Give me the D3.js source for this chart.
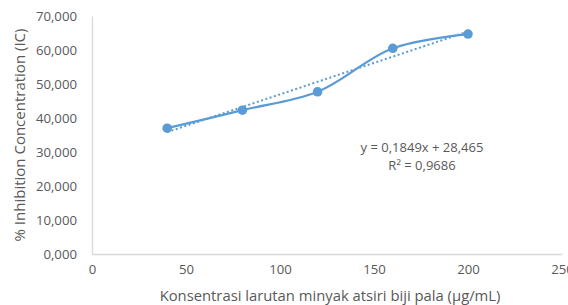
<!DOCTYPE html>
<html>
<head>
<meta charset="utf-8">
<script src="https://cdn.jsdelivr.net/npm/d3@7"></script>
<style>
  body { margin: 0; background: #fff; }
  svg { display: block; font-family: "Open Sans", sans-serif; }
</style>
</head>
<body>
<div id="chart"></div>
<script>
"use strict";

// Concentration (µg/mL) and % inhibition
const concentrations = [40, 80, 120, 160, 200];
const inhibition = [37.0, 42.3, 47.7, 60.5, 64.7];
const xTicks = [0, 50, 100, 150, 200, 250];
const yTicks = [0, 10, 20, 30, 40, 50, 60, 70];
const trendSlope = 0.1849;
const trendIntercept = 28.465;
const trendText = ['y = 0,1849x + 28,465', 'R\u00B2 = 0,9686'];

const width = 568, height = 305;
const margin = {left: 92, right: 6, top: 16, bottom: 51};
const chartWidth = width - margin.left - margin.right;
const chartHeight = height - margin.top - margin.bottom;
const blue = '#5b9bd5';
const textGrey = '#595959';
const axisGrey = '#d9d9d9';

let svg = d3.select('#chart').append('svg')
    .attr('width', width)
    .attr('height', height);

let x = d3.scaleLinear().domain([0, 250]).range([0, 470]);
let y = d3.scaleLinear().domain([0, 70]).range([chartHeight, 0]);

// Excel style number: three decimals, comma as decimal mark
function fmt(v) { return v.toFixed(3).replace('.', ','); }

let g = svg.append('g')
    .attr('transform', 'translate(' + margin.left + ',' + margin.top + ')');

// Axes lines only, no tick marks
let xAxis = g.append('g')
    .attr('transform', 'translate(0,' + chartHeight + ')')
    .call(d3.axisBottom(x).tickValues(xTicks).tickSize(0).tickPadding(11));
let yAxis = g.append('g')
    .call(d3.axisLeft(y).tickValues(yTicks).tickFormat(fmt).tickSize(0).tickPadding(15));
[xAxis, yAxis].forEach(function (a) {
    a.select('.domain').attr('stroke', axisGrey).attr('stroke-width', 1.3);
    a.selectAll('text')
        .attr('fill', textGrey)
        .style('font-family', '"Open Sans", sans-serif')
        .style('font-size', '13.2px');
});

// Linear trendline (dotted)
let trendX = [d3.min(concentrations), d3.max(concentrations)];
g.append('line')
    .attr('x1', x(trendX[0]))
    .attr('y1', y(trendSlope * trendX[0] + trendIntercept))
    .attr('x2', x(trendX[1]))
    .attr('y2', y(trendSlope * trendX[1] + trendIntercept))
    .attr('stroke', blue)
    .attr('stroke-width', 2)
    .attr('stroke-dasharray', '2,2.5');

// Smoothed data line
let points = concentrations.map(function (c, i) { return [c, inhibition[i]]; });
let line = d3.line()
    .x(function (d) { return x(d[0]); })
    .y(function (d) { return y(d[1]); })
    .curve(d3.curveCatmullRom.alpha(0.5));
g.append('path')
    .datum(points)
    .attr('d', line)
    .attr('fill', 'none')
    .attr('stroke', blue)
    .attr('stroke-width', 2.25);

g.selectAll('circle')
    .data(points)
    .enter().append('circle')
    .attr('cx', function (d) { return x(d[0]); })
    .attr('cy', function (d) { return y(d[1]); })
    .attr('r', 4.8)
    .attr('fill', blue);

// Trendline label
svg.append('text')
    .attr('x', 422)
    .attr('y', 152)
    .attr('text-anchor', 'middle')
    .attr('fill', textGrey)
    .style('font-size', '13px')
  .selectAll('tspan')
    .data(trendText)
    .enter().append('tspan')
    .attr('x', 422)
    .attr('dy', function (d, i) { return i === 0 ? 0 : 18; })
    .text(function (d) { return d; });

// Axis titles
svg.append('text')
    .attr('x', 330)
    .attr('y', 301)
    .attr('text-anchor', 'middle')
    .attr('fill', textGrey)
    .style('font-size', '14.8px')
    .text('Konsentrasi larutan minyak atsiri biji pala (\u00B5g/mL)');
svg.append('text')
    .attr('transform', 'translate(25,' + (margin.top + chartHeight / 2) + ') rotate(-90)')
    .attr('text-anchor', 'middle')
    .attr('fill', textGrey)
    .style('font-size', '15px')
    .text('% Inhibition Concentration (IC)');
</script>
</body>
</html>
